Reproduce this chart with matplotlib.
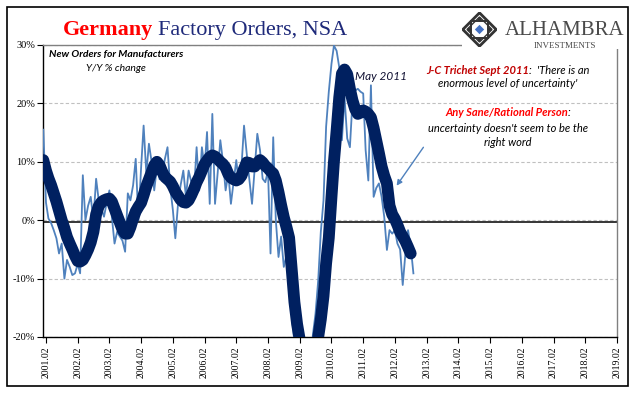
import matplotlib
matplotlib.use('Agg')
import matplotlib.pyplot as plt
from matplotlib.patches import Rectangle, Polygon
from matplotlib.transforms import IdentityTransform
import pandas as pd

# monthly y/y % change, Jan 2001 onwards
orders_yoy = [
    15.5, 3.0, 0.3, -0.5, -1.7, -3.1, -5.7, -4.0, -10.0, -6.8,
    -8.0, -9.4, -9.1, -7.5, -9.1, 7.7, 0.0, 2.5, 4.0, 0.0,
    7.1, 3.4, 2.0, 0.6, 3.0, 5.1, 0.6, -4.0, -2.0, -2.8,
    -3.5, -5.4, 4.6, 3.4, 6.0, 10.5, 0.0, 9.0, 16.2, 8.0,
    13.1, 10.0, 5.1, 9.1, 7.0, 8.0, 10.5, 12.5, 5.7, 1.7,
    -3.1, 2.8, 6.0, 8.5, 4.0, 8.5, 6.5, 4.6, 12.5, 5.1,
    12.5, 9.0, 15.1, 2.8, 18.2, 2.8, 8.0, 13.7, 10.0, 5.1,
    8.0, 2.8, 6.5, 10.3, 6.3, 9.0, 16.2, 11.4, 7.0, 2.8,
    9.0, 14.8, 12.0, 7.1, 6.5, 8.5, -5.7, 14.2, 0.0, -6.3,
    -2.8, -8.0, -6.0, -11.0, -16.0, -21.0, -27.0, -33.0, -37.0, -38.0,
    -35.0, -28.0, -19.7, -16.0, -10.3, -2.0, 3.4, 16.0, 22.0, 26.8,
    29.9, 29.0, 26.2, 13.7, 21.1, 14.0, 12.5, 20.5, 22.2, 22.5,
    22.0, 21.7, 12.0, 6.8, 23.1, 4.0, 5.5, 6.3, 4.0, 0.6,
    -5.1, -1.7, -2.3, -1.7, -4.0, -5.0, -11.1, -5.7, -1.7, -4.5,
    -9.1,
]

# smoothed series (thick line)
orders_avg = [
    10.3, 8.5, 7.2, 6.0, 4.6, 3.2, 1.6, 0.0, -1.4, -2.9,
    -4.0, -5.0, -6.1, -7.0, -7.1, -6.8, -6.0, -5.0, -3.8, -2.0,
    1.0, 2.4, 3.1, 3.4, 3.6, 3.7, 3.2, 2.0, 0.8, -0.4,
    -1.6, -2.3, -2.3, -1.2, 0.3, 1.5, 2.3, 3.0, 4.3, 5.8,
    7.0, 8.2, 9.4, 10.0, 9.4, 8.3, 7.4, 7.0, 6.6, 5.8,
    4.9, 4.2, 3.5, 3.1, 3.0, 3.4, 4.3, 5.3, 6.5, 7.4,
    8.5, 9.6, 10.2, 10.8, 11.1, 10.9, 10.5, 10.0, 9.6, 9.0,
    7.9, 7.3, 7.0, 6.8, 7.0, 7.6, 8.8, 9.9, 9.8, 9.2,
    9.2, 9.8, 10.3, 9.9, 9.3, 8.9, 8.4, 8.0, 6.8, 4.8,
    2.6, 0.5, -1.2, -3.0, -8.5, -14.0, -17.8, -20.5, -25.0, -29.0,
    -32.0, -32.5, -29.0, -24.5, -20.0, -17.0, -13.0, -7.4, -3.0, 4.0,
    10.0, 15.4, 21.0, 25.1, 25.8, 25.0, 22.5, 20.5, 19.0, 18.2,
    18.4, 18.8, 18.6, 18.2, 17.6, 15.8, 13.7, 11.5, 9.2, 7.6,
    6.3, 2.5, 1.0, 0.2, -0.8, -2.0, -2.8, -3.6, -4.6, -5.7,
]

y_ticks = [-20, -10, 0, 10, 20, 30]
x_tick_dates = pd.date_range('2001-02-01', '2019-02-01', freq='12MS')

W, H = 641, 398


def fx(px):
    return px / W


def fy(py):
    return 1 - py / H


fig = plt.figure(figsize=(6.41, 3.98), dpi=100)
ax = fig.add_axes([fx(43.3), fy(337), fx(617) - fx(43.3), fy(45) - fy(337)])

months_yoy = pd.date_range('2001-01-01', periods=len(orders_yoy), freq='MS')
months_avg = pd.date_range('2001-01-01', periods=len(orders_avg), freq='MS')

ax.plot(months_yoy, orders_yoy, color='#4F81BD', lw=1.3, zorder=3)
ax.plot(months_avg, orders_avg, color='#002060', lw=8.5,
        solid_capstyle='round', solid_joinstyle='round', zorder=4)
ax.axhline(-0.3, color='black', lw=1.1, zorder=2.5)

ax.set_ylim(-20, 30)
ax.set_xlim(pd.Timestamp('2001-01-01'), pd.Timestamp('2019-02-01'))

ax.set_yticks(y_ticks)
ax.set_yticklabels([str(v) + '%' for v in y_ticks], fontfamily='Liberation Serif', fontsize=7.5)
ax.set_xticks(x_tick_dates)
ax.set_xticklabels([d.strftime('%Y.%m') for d in x_tick_dates],
                   fontfamily='Liberation Serif', fontsize=7, rotation=90)
ax.tick_params(axis='y', direction='out', length=4, width=0.8, pad=2)
ax.tick_params(axis='x', direction='out', length=4, width=0.8, pad=3)
ax.grid(axis='y', color='#C0C0C0', lw=0.8, ls=(0, (3, 2)), zorder=1)
ax.set_axisbelow(True)

for side in ['left', 'bottom']:
    ax.spines[side].set_color('black')
    ax.spines[side].set_linewidth(1.0)
for side in ['top', 'right']:
    ax.spines[side].set_color('#808080')
    ax.spines[side].set_linewidth(1.0)

# outer chart border
fig.add_artist(Rectangle((fx(7), fy(386)), fx(628) - fx(7), fy(7) - fy(386),
                         transform=fig.transFigure, fill=False, ec='black', lw=1.2, zorder=0))
# white box behind logo
fig.add_artist(Rectangle((fx(462), fy(49)), fx(625) - fx(462), fy(38) - fy(49),
                         transform=fig.transFigure, fc='white', ec='none', zorder=5))


def rich_line(xc, base, parts, size, family, gap=0):
    r = fig.canvas.get_renderer()
    objs = []
    for s, kw in parts:
        t = fig.text(0, H - base, s, transform=IdentityTransform(), fontsize=size,
                     family=family, va='baseline', ha='left', zorder=6, **kw)
        objs.append(t)
    widths = [t.get_window_extent(r).width for t in objs]
    cur = xc - (sum(widths) + gap * (len(objs) - 1)) / 2
    for t, w in zip(objs, widths):
        t.set_x(cur)
        cur += w + gap


serif = ['Liberation Serif', 'DejaVu Serif']
sans = ['Lato', 'DejaVu Sans']

rich_line(205, 35, [('Germany', dict(color='#FF0000', fontweight='bold')),
                    ('Factory Orders, NSA', dict(color='#1F2A7A'))], 16, serif, gap=5)

fig.text(fx(49), fy(57.5), 'New Orders for Manufacturers', fontsize=7.5, family=sans,
         fontweight='bold', fontstyle='italic', va='baseline', ha='left')
fig.text(fx(86), fy(71), 'Y/Y % change', fontsize=7.5, family=sans,
         fontstyle='italic', va='baseline', ha='left')
fig.text(fx(381), fy(79.5), 'May 2011', fontsize=8.5, family=sans,
         fontstyle='italic', va='baseline', ha='center', color='#111133')

rich_line(508, 73.5, [('J-C Trichet Sept 2011', dict(color='#C00000', fontstyle='italic', fontweight='bold')),
                      (":  'There is an", dict(color='black', fontstyle='italic'))], 8, sans)
rich_line(508, 87, [("enormous level of uncertainty'", dict(color='black', fontstyle='italic'))], 8, sans)
rich_line(508, 116.5, [('Any Sane/Rational Person', dict(color='#FF0000', fontstyle='italic', fontweight='bold')),
                       (':', dict(color='black', fontstyle='italic'))], 8, sans)
rich_line(508, 131.5, [("uncertainty doesn't seem to be the", dict(color='black', fontstyle='italic'))], 8, sans)
rich_line(508, 146.5, [('right word', dict(color='black', fontstyle='italic'))], 8, sans)

fig.add_artist(matplotlib.patches.FancyArrowPatch(
    (fx(425), fy(145)), (fx(395), fy(188)), transform=fig.transFigure,
    arrowstyle='-|>', color='#4F81BD', lw=1, mutation_scale=8, zorder=6))

# logo
lax = fig.add_axes([fx(462), fy(47), fx(497) - fx(462), fy(12) - fy(47)], zorder=7)
lax.set_xlim(-1.05, 1.05)
lax.set_ylim(-1.05, 1.05)
lax.axis('off')
lax.add_patch(Polygon([(0, 1), (1, 0), (0, -1), (-1, 0)], fill=False, ec='#333333', lw=2))
lax.add_patch(Polygon([(-0.5, -0.5), (0.5, -0.5), (0.5, 0.5), (-0.5, 0.5)], fill=False, ec='#333333', lw=1.4))
lax.add_patch(Polygon([(0, 0.75), (0.75, 0), (0, -0.75), (-0.75, 0)], fill=False, ec='#333333', lw=1.0))
for cx, cy in [(0, 0.62), (0.62, 0), (0, -0.62), (-0.62, 0)]:
    d = 0.14
    lax.add_patch(Polygon([(cx, cy + d), (cx + d, cy), (cx, cy - d), (cx - d, cy)], fc='#333333', ec='none'))
lax.add_patch(Polygon([(0, 0.28), (0.28, 0), (0, -0.28), (-0.28, 0)], fc='#4472C4', ec='none'))

fig.text(fx(505), fy(35), 'ALHAMBRA', fontsize=15, family=serif, color='#4a4a4a',
         va='baseline', ha='left', zorder=8)
fig.text(fx(564.5), fy(47.5), 'INVESTMENTS', fontsize=6.5, family=serif, color='#4a4a4a',
         va='baseline', ha='center', zorder=8)

fig.savefig('out.png', dpi=100)
